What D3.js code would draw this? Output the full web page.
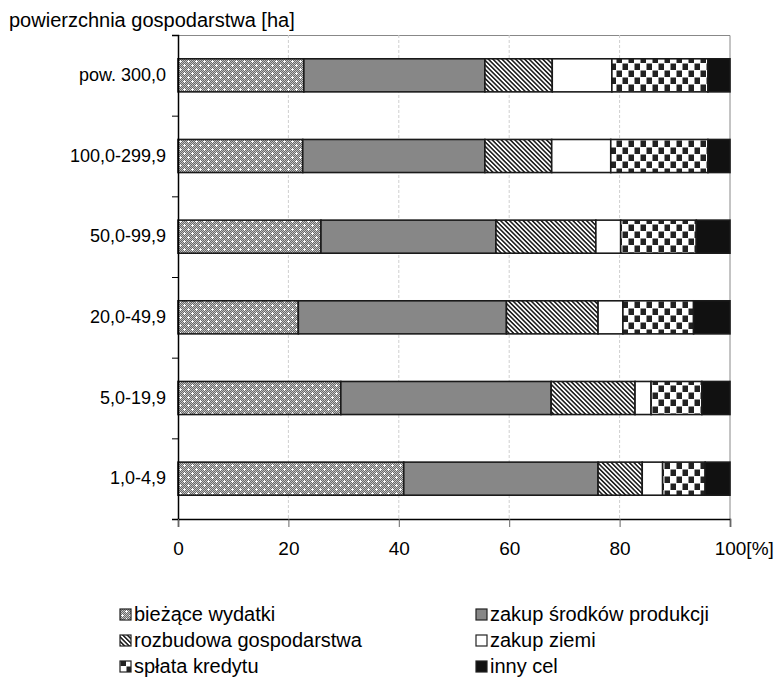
<!DOCTYPE html>
<html>
<head>
<meta charset="utf-8">
<script src="https://cdn.jsdelivr.net/npm/d3@7"></script>
<style>
  body { margin: 0; background: #fff; }
  svg text { font-family: "Liberation Sans", Arial, sans-serif; fill: #000; }
</style>
</head>
<body>
<script>
// categories (farm size groups) top to bottom
var categories = ["pow. 300,0", "100,0-299,9", "50,0-99,9", "20,0-49,9", "5,0-19,9", "1,0-4,9"];
var seriesNames = ["bieżące wydatki", "zakup środków produkcji", "rozbudowa gospodarstwa", "zakup ziemi", "spłata kredytu", "inny cel"];

// shares in % per category
var biezace   = [22.8, 22.6, 25.9, 21.8, 29.5, 40.9];
var srodki    = [32.8, 33.0, 31.7, 37.7, 38.1, 35.2];
var rozbudowa = [12.2, 12.1, 18.1, 16.6, 15.2, 8.0];
var ziemia    = [10.8, 10.7, 4.5, 4.5, 2.9, 3.7];
var kredyt    = [17.4, 17.6, 13.7, 12.8, 9.2, 7.7];
var inny      = [4.0, 4.0, 6.1, 6.6, 5.1, 4.5];

var xTicks = [0, 20, 40, 60, 80, 100];

var seriesValues = [biezace, srodki, rozbudowa, ziemia, kredyt, inny];

// build rows for d3.stack
var rows = categories.map(function(c, i) {
  var r = {cat: c};
  seriesNames.forEach(function(s, j) { r[s] = seriesValues[j][i]; });
  return r;
});

var w = 781, h = 679;
var margin = {top: 35, right: 51, bottom: 160, left: 178};
var pw = w - margin.left - margin.right;   // 552
var ph = h - margin.top - margin.bottom;   // 484

var svg = d3.select("body").append("svg")
  .attr("width", w)
  .attr("height", h);

// patterns
var defs = svg.append("defs");

// dotted gray (bieżące wydatki)
var p1 = defs.append("pattern").attr("id", "pat0")
  .attr("patternUnits", "userSpaceOnUse").attr("width", 8).attr("height", 8);
p1.append("rect").attr("width", 8).attr("height", 8).attr("fill", "#c0c0c0");
for (let i = 0; i < 8; i++) {
  for (let j = 0; j < 8; j++) {
    if ((i + j) % 2 == 0) {
      p1.append("rect").attr("x", i).attr("y", j).attr("width", 1).attr("height", 1).attr("fill", "#6a6a6a");
    }
  }
}
[[2, 2], [6, 6]].forEach(function(c) {
  p1.append("rect").attr("x", c[0] - 1).attr("y", c[1]).attr("width", 3).attr("height", 1).attr("fill", "#fff");
  p1.append("rect").attr("x", c[0]).attr("y", c[1] - 1).attr("width", 1).attr("height", 3).attr("fill", "#fff");
});

// solid gray
defs.append("pattern").attr("id", "pat1")
  .attr("patternUnits", "userSpaceOnUse").attr("width", 4).attr("height", 4)
  .append("rect").attr("width", 4).attr("height", 4).attr("fill", "#878787");

// diagonal hatch
var p3 = defs.append("pattern").attr("id", "pat2")
  .attr("patternUnits", "userSpaceOnUse").attr("width", 3.2).attr("height", 3.2)
  .attr("patternTransform", "rotate(-45)");
p3.append("rect").attr("width", 3.2).attr("height", 3.2).attr("fill", "#fff");
p3.append("rect").attr("width", 1.6).attr("height", 3.2).attr("fill", "#222");

// white
defs.append("pattern").attr("id", "pat3")
  .attr("patternUnits", "userSpaceOnUse").attr("width", 4).attr("height", 4)
  .append("rect").attr("width", 4).attr("height", 4).attr("fill", "#fff");

// checkerboard
var p5 = defs.append("pattern").attr("id", "pat4")
  .attr("patternUnits", "userSpaceOnUse").attr("width", 12).attr("height", 14);
p5.append("rect").attr("width", 12).attr("height", 14).attr("fill", "#fff");
p5.append("rect").attr("x", 0.5).attr("y", 0.5).attr("width", 5.5).attr("height", 6.5).attr("fill", "#222");
p5.append("rect").attr("x", 6.5).attr("y", 7.5).attr("width", 5.5).attr("height", 6.5).attr("fill", "#222");

// black
defs.append("pattern").attr("id", "pat5")
  .attr("patternUnits", "userSpaceOnUse").attr("width", 4).attr("height", 4)
  .append("rect").attr("width", 4).attr("height", 4).attr("fill", "#111");

var g = svg.append("g")
  .attr("transform", "translate(" + margin.left + "," + margin.top + ")");

// scales
var xScale = d3.scaleLinear().domain([0, 100]).range([0, pw]);
var yScale = d3.scaleBand().domain(categories).range([0, ph])
  .paddingInner(0.59).paddingOuter(0.295);
var yTickScale = d3.scaleLinear().domain([0, categories.length]).range([0, ph]);

// frame (top, right)
g.append("path")
  .attr("d", "M0,0.5H" + pw + "V" + ph)
  .attr("fill", "none")
  .attr("stroke", "#888")
  .attr("stroke-width", 1);

// gridlines
g.append("g")
  .selectAll("line")
  .data(xTicks.slice(1, -1))
  .enter()
  .append("line")
  .attr("x1", function(d) { return xScale(d); })
  .attr("x2", function(d) { return xScale(d); })
  .attr("y1", 0)
  .attr("y2", ph)
  .attr("stroke", "#cfcfcf")
  .attr("stroke-dasharray", "3,2");

// bars
var stacked = d3.stack().keys(seriesNames)(rows);

g.append("g")
  .selectAll("g")
  .data(stacked)
  .enter()
  .append("g")
  .attr("fill", function(d, i) { return "url(#pat" + i + ")"; })
  .selectAll("rect")
  .data(function(d) { return d; })
  .enter()
  .append("rect")
  .attr("x", function(d) { return xScale(d[0]); })
  .attr("y", function(d) { return yScale(d.data.cat); })
  .attr("width", function(d) { return xScale(d[1]) - xScale(d[0]); })
  .attr("height", yScale.bandwidth())
  .attr("stroke", "#1a1a1a")
  .attr("stroke-width", 1.6);

// y axis: labels
var yAxis = d3.axisLeft(yScale).tickSize(0).tickPadding(12);
g.append("g")
  .attr("class", "yaxis")
  .call(yAxis)
  .call(function(a) { a.select(".domain").remove(); })
  .selectAll("text")
  .style("font-size", "18px");

// y axis: tick marks between groups
g.append("g")
  .call(d3.axisLeft(yTickScale).ticks(categories.length).tickSize(6).tickFormat(""))
  .call(function(a) {
    a.select(".domain").attr("stroke", "#000").attr("stroke-width", 1.5);
  });

// x axis
var xAxis = d3.axisBottom(xScale).tickValues(xTicks).tickSize(8).tickPadding(15);
var xg = g.append("g")
  .attr("class", "xaxis")
  .attr("transform", "translate(0," + ph + ")")
  .call(xAxis);
xg.select(".domain").attr("stroke-width", 1.5);
xg.selectAll("line").attr("stroke", "#666");
xg.selectAll("text").style("font-size", "19px");

// last tick label gets the unit, keeping "100" centred on the tick
var last = xg.selectAll(".tick text").filter(function(d) { return d == 100; });
var halfW = last.node().getComputedTextLength() / 2;
last.attr("text-anchor", "start").attr("x", -halfW).text("100[%]");

// axis title
svg.append("text")
  .attr("x", 9)
  .attr("y", 27)
  .style("font-size", "20px")
  .text("powierzchnia gospodarstwa [ha]");

// legend
var legend = svg.append("g")
  .selectAll("g")
  .data(seriesNames)
  .enter()
  .append("g")
  .attr("transform", function(d, i) {
    return "translate(" + (i % 2 == 0 ? 120 : 476) + "," + (621 + Math.floor(i / 2) * 26) + ")";
  });

legend.append("rect")
  .attr("x", 0)
  .attr("y", -12)
  .attr("width", 11)
  .attr("height", 11)
  .attr("fill", function(d, i) { return "url(#pat" + i + ")"; })
  .attr("stroke", "#222")
  .attr("stroke-width", 1.2);

legend.append("text")
  .attr("x", 14)
  .attr("y", 0)
  .style("font-size", "20px")
  .text(function(d) { return d; });
</script>
</body>
</html>
